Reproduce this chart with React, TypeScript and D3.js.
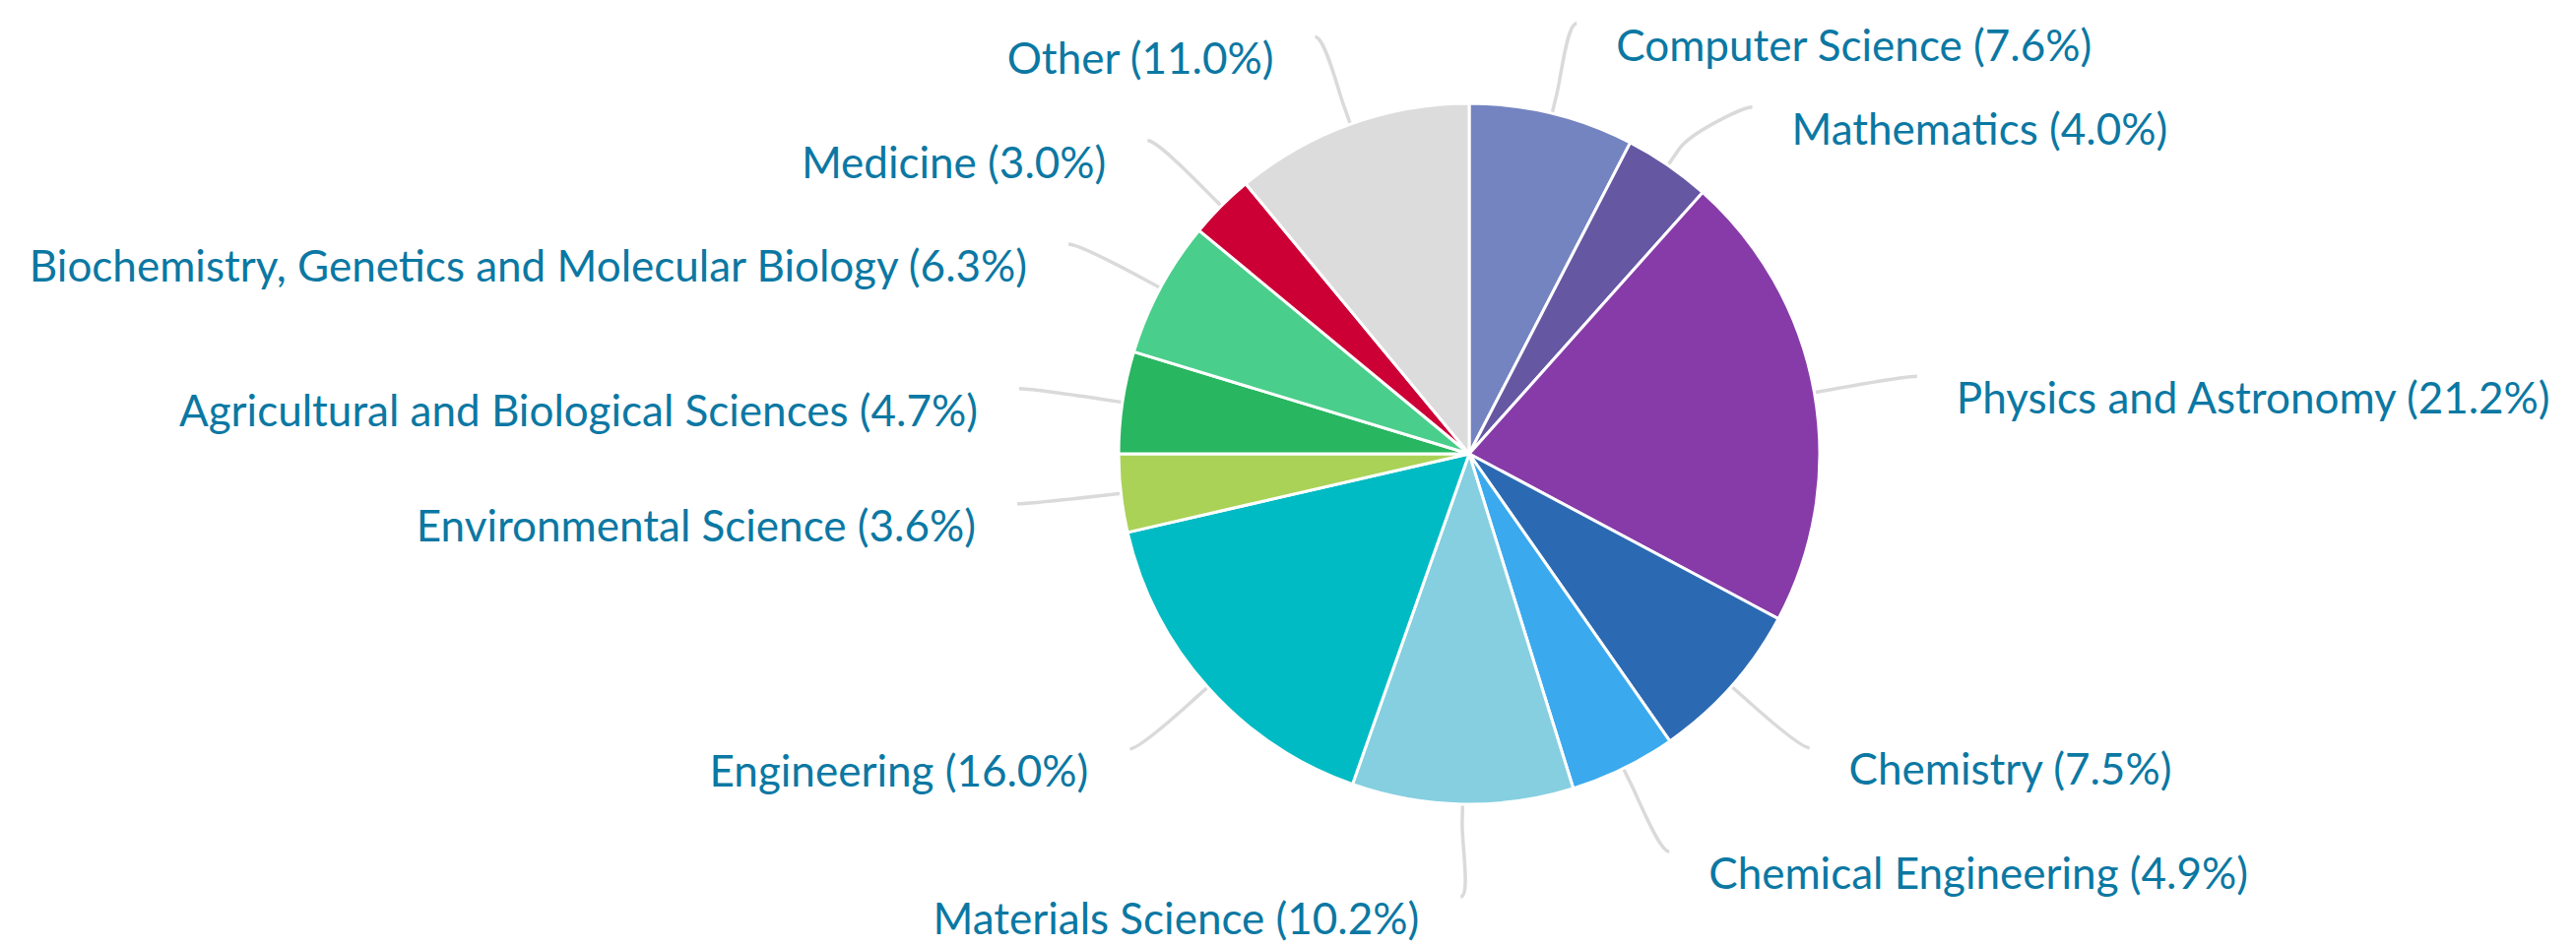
import React from 'react';
import * as d3 from 'd3';

const categories: string[] = [
  'Computer Science',
  'Mathematics',
  'Physics and Astronomy',
  'Chemistry',
  'Chemical Engineering',
  'Materials Science',
  'Engineering',
  'Environmental Science',
  'Agricultural and Biological Sciences',
  'Biochemistry, Genetics and Molecular Biology',
  'Medicine',
  'Other',
];
const shares: number[] = [7.6, 4.0, 21.2, 7.5, 4.9, 10.2, 16.0, 3.6, 4.7, 6.3, 3.0, 11.0];
const colors: string[] = [
  '#7484c1', '#6557a2', '#873ba8', '#2b6ab3', '#3ba9ee', '#85cfe0',
  '#00bbc3', '#aad257', '#29b660', '#4ace8b', '#cc0035', '#dcdcdc',
];

const W = 2616;
const H = 961;
const CX = 1492;
const CY = 461;
const R = 356;
const LABEL_RX = 462;
const LABEL_RY = 450;
const BREAK_R = R + 20;
const GAP = 85;
const FONT = 44;

type Lbl = { i: number; a: number; right: boolean; x: number; y: number };

export default function App() {
  const pie = d3.pie<number>().sort(null).value((d) => d).startAngle(0).endAngle(2 * Math.PI)(shares);
  const arc = d3.arc<d3.PieArcDatum<number>>().innerRadius(0).outerRadius(R);

  const labels: Lbl[] = pie.map((p, i) => {
    const a = (p.startAngle + p.endAngle) / 2;
    return { i, a, right: a < Math.PI, x: CX + LABEL_RX * Math.sin(a), y: CY - LABEL_RY * Math.cos(a) };
  });
  for (const side of [true, false]) {
    const items = labels.filter((l) => l.right === side).sort((p, q) => p.y - q.y);
    for (let k = 1; k < items.length; k++) {
      const prev = items[k - 1];
      const cur = items[k];
      if (cur.y - prev.y < GAP) {
        cur.y = prev.y + GAP;
        const dy = (cur.y - CY) / LABEL_RY;
        const dx = LABEL_RX * Math.sqrt(Math.max(0, 1 - dy * dy));
        cur.x = CX + (side ? dx : -dx);
      }
    }
  }

  const connector = (l: Lbl) => {
    const s = Math.sin(l.a);
    const c = Math.cos(l.a);
    const t = [CX + R * s, CY - R * c];
    const b = [CX + BREAK_R * s, CY - BREAK_R * c];
    const c1 = [2 * b[0] - t[0], 2 * b[1] - t[1]];
    const c2 = [l.x + (l.right ? -10 : 10), l.y];
    const p = d3.path();
    p.moveTo(t[0], t[1]);
    p.lineTo(b[0], b[1]);
    p.bezierCurveTo(c1[0], c1[1], c2[0], c2[1], l.x, l.y);
    return p.toString();
  };

  return (
    <svg
      width={W}
      height={H}
      viewBox={`0 0 ${W} ${H}`}
      style={{ position: 'fixed', left: 0, top: 0, display: 'block', background: '#fff' }}
    >
      <g>
        {labels.map((l) => (
          <path key={'c' + l.i} d={connector(l)} fill="none" stroke="#dadada" strokeWidth={3.5} />
        ))}
      </g>
      <g transform={`translate(${CX},${CY})`}>
        {pie.map((p, i) => (
          <path key={'s' + i} d={arc(p) || ''} fill={colors[i]} stroke="#ffffff" strokeWidth={3} strokeLinejoin="round" />
        ))}
      </g>
      <g fontFamily="Lato, 'Open Sans', sans-serif" fontSize={FONT} fill="#0b78a3">
        {labels.map((l) => (
          <text
            key={'t' + l.i}
            x={l.right ? l.x + 40 : l.x - 42}
            y={l.y + 22}
            dy="0.36em"
            textAnchor={l.right ? 'start' : 'end'}
          >
            {`${categories[l.i]} (${shares[l.i].toFixed(1)}%)`}
          </text>
        ))}
      </g>
    </svg>
  );
}
